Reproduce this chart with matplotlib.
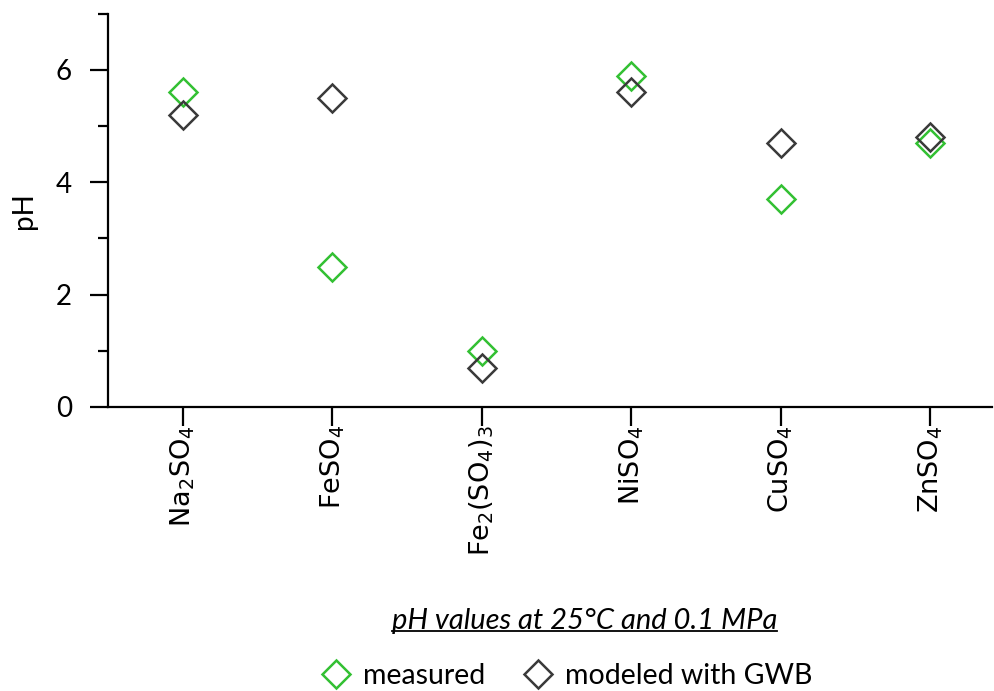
import matplotlib
matplotlib.use("Agg")
import matplotlib.pyplot as plt
from matplotlib.ticker import MultipleLocator
from matplotlib.lines import Line2D

categories = [r"Na$_2$SO$_4$", r"FeSO$_4$", r"Fe$_2$(SO$_4$)$_3$", r"NiSO$_4$", r"CuSO$_4$", r"ZnSO$_4$"]
measured = [5.6, 2.5, 1.0, 5.9, 3.7, 4.7]
modeled = [5.2, 5.5, 0.7, 5.6, 4.7, 4.8]

green = "#33c033"
dark = "#3a3a3a"
font = "Lato"
plt.rcParams["mathtext.fontset"] = "dejavusans"
plt.rcParams["font.family"] = "DejaVu Sans"

fig = plt.figure(figsize=(9.94, 6.91), dpi=100)
ax = fig.add_axes([0.1087, 0.411, 0.889, 0.569])

x = list(range(len(categories)))
ax.plot(x, measured, linestyle="none", marker="D", markersize=14.5, markerfacecolor="none",
        markeredgecolor=green, markeredgewidth=1.8, label="measured")
ax.plot(x, modeled, linestyle="none", marker="D", markersize=14.5, markerfacecolor="none",
        markeredgecolor=dark, markeredgewidth=1.8, label="modeled with GWB")

ax.set_xlim(-0.5, 5.41)
ax.set_ylim(0, 7)
ax.set_xticks(x)
ax.set_xticklabels(categories, rotation=90)
ax.yaxis.set_major_locator(MultipleLocator(2))
ax.yaxis.set_minor_locator(MultipleLocator(1))
ax.tick_params(axis="y", which="major", length=13, width=1.6, labelsize=20, pad=13)
ax.tick_params(axis="y", which="minor", length=7, width=1.6)
ax.tick_params(axis="x", which="major", length=14, width=1.6, pad=-1, labelsize=19.5)
for lab in ax.get_yticklabels():
    lab.set_fontfamily(font)
for s in ["top", "right"]:
    ax.spines[s].set_visible(False)
for s in ["left", "bottom"]:
    ax.spines[s].set_linewidth(1.6)
ax.set_ylabel("pH", fontsize=20, fontfamily=font)
ax.yaxis.set_label_coords(-0.080, 0.5)

t = fig.text(0.588, 0.102, "pH values at 25°C and 0.1 MPa", ha="center", va="center",
             fontsize=21, fontstyle="italic", fontfamily=font)
fig.canvas.draw()
bb = t.get_window_extent().transformed(fig.transFigure.inverted())
fig.add_artist(Line2D([bb.x0, bb.x1], [bb.y0 + 0.003, bb.y0 + 0.003], transform=fig.transFigure,
                      color="black", linewidth=1.3))

fig.legend(loc="center", bbox_to_anchor=(0.569, 0.022), ncol=2, frameon=False,
           prop={"family": font, "size": 20.5}, handletextpad=0.35, columnspacing=1.25,
           handlelength=1.2)

fig.savefig("out.png", dpi=100)
